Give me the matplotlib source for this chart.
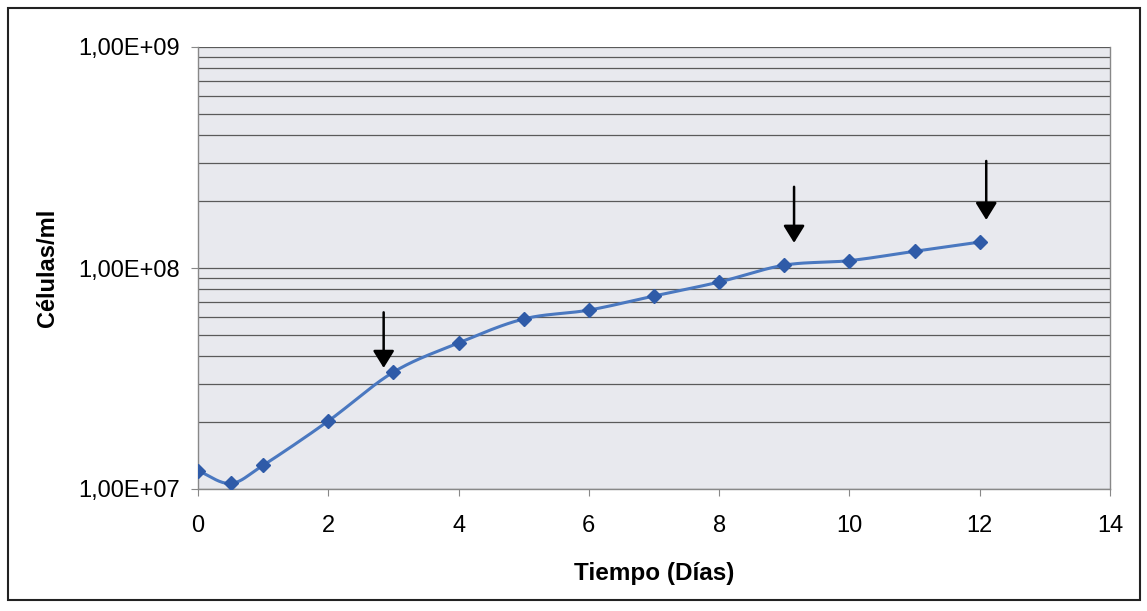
import numpy as np
import matplotlib
matplotlib.use("Agg")
import matplotlib.pyplot as plt
from matplotlib.ticker import FixedLocator, LogLocator, NullFormatter
from matplotlib.patches import Rectangle

plt.rcParams['font.family'] = ['Liberation Sans', 'DejaVu Sans']

dias = [0, 0.5, 1, 2, 3, 4, 5, 6, 7, 8, 9, 10, 11, 12]
celulas = [1.21e7, 1.06e7, 1.28e7, 2.03e7, 3.38e7, 4.58e7, 5.88e7, 6.45e7,
           7.47e7, 8.64e7, 1.03e8, 1.08e8, 1.19e8, 1.31e8]
flechas_x = [2.85, 9.15, 12.1]
flechas_y_ini = [6.3e7, 2.33e8, 3.05e8]
flechas_y_fin = [3.53e7, 1.30e8, 1.65e8]
yticks = [1e7, 1e8, 1e9]
ytick_labels = ["1,00E+07", "1,00E+08", "1,00E+09"]
xticks = [0, 2, 4, 6, 8, 10, 12, 14]


def catmull_rom(x, y, n=20):
    x = np.asarray(x, float)
    y = np.asarray(y, float)
    px = np.concatenate([[2 * x[0] - x[1]], x, [2 * x[-1] - x[-2]]])
    py = np.concatenate([[2 * y[0] - y[1]], y, [2 * y[-1] - y[-2]]])
    ox, oy = [], []
    for i in range(1, len(px) - 2):
        t = np.linspace(0, 1, n, endpoint=False)
        for arr, out in ((px, ox), (py, oy)):
            p0, p1, p2, p3 = arr[i - 1], arr[i], arr[i + 1], arr[i + 2]
            out.extend(0.5 * ((2 * p1) + (-p0 + p2) * t +
                              (2 * p0 - 5 * p1 + 4 * p2 - p3) * t ** 2 +
                              (-p0 + 3 * p1 - 3 * p2 + p3) * t ** 3))
    ox.append(x[-1])
    oy.append(y[-1])
    return np.array(ox), np.array(oy)


fig = plt.figure(figsize=(11.47, 6.11), dpi=100)
fig.patch.set_facecolor('white')
fig.add_artist(Rectangle((8 / 1147, 1 - 600 / 611), 1132 / 1147, 592 / 611,
                         transform=fig.transFigure, fill=False,
                         edgecolor='#222222', linewidth=1.5))

ax = fig.add_axes([198 / 1147, 1 - 489 / 611, 912 / 1147, 442 / 611])
ax.set_facecolor('#e8e9ee')
ax.set_yscale('log')
ax.set_xlim(0, 14)
ax.set_ylim(1e7, 1e9)

ax.yaxis.set_major_locator(FixedLocator(yticks))
ax.set_yticklabels(ytick_labels)
ax.yaxis.set_minor_locator(LogLocator(base=10, subs=np.arange(2, 10)))
ax.yaxis.set_minor_formatter(NullFormatter())
ax.set_xticks(xticks)
ax.set_xticklabels([str(v) for v in xticks])

ax.grid(True, which='both', axis='y', color='#5a5a5a', linewidth=0.9)
ax.set_axisbelow(True)

for s in ['left', 'bottom', 'right']:
    ax.spines[s].set_color('#888888')
    ax.spines[s].set_linewidth(1.0)
ax.spines['top'].set_visible(False)

ax.tick_params(axis='both', which='major', labelsize=17, colors='#888888',
               labelcolor='black', length=5, direction='out')
ax.tick_params(axis='y', which='minor', length=0)
ax.tick_params(axis='x', pad=14)
ax.tick_params(axis='y', pad=8)

sx, sy = catmull_rom(dias, np.log10(celulas))
ax.plot(sx, 10 ** sy, color='#4a78c0', linewidth=2.2, zorder=3)
ax.plot(dias, celulas, linestyle='none', marker='D', markersize=7.5,
        color='#2f5ba8', zorder=4)

for fx, y0, y1 in zip(flechas_x, flechas_y_ini, flechas_y_fin):
    ax.annotate('', xy=(fx, y1), xytext=(fx, y0),
                arrowprops=dict(arrowstyle='-|>,head_width=0.65,head_length=1.05',
                                color='black', lw=1.8, shrinkA=0, shrinkB=0),
                zorder=5)

ax.set_xlabel('Tiempo (Días)', fontsize=17.5, fontweight='bold', labelpad=18)
ax.set_ylabel('Células/ml', fontsize=17, fontweight='bold', labelpad=14)

fig.savefig('out.png', dpi=100)
